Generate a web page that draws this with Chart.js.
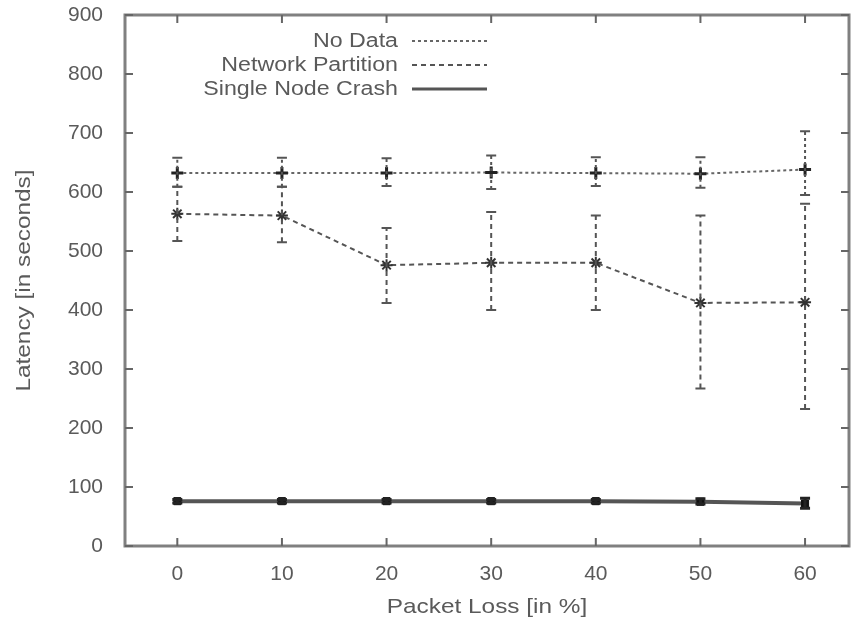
<!DOCTYPE html>
<html>
<head>
<meta charset="utf-8">
<script src="https://cdn.jsdelivr.net/npm/chart.js@4/dist/chart.umd.min.js"></script>
<style>
  html, body { margin: 0; padding: 0; background: #fff; }
  canvas { display: block; }
</style>
</head>
<body>
<canvas id="latency" width="858" height="622"></canvas>
<script>
// packet loss levels (x)
const packetLoss = [0, 10, 20, 30, 40, 50, 60];
const xTicks = [0, 10, 20, 30, 40, 50, 60];
const yTicks = [0, 100, 200, 300, 400, 500, 600, 700, 800, 900];

const seriesNames = ['No Data', 'Network Partition', 'Single Node Crash'];

// latency in seconds, with error bar ends
const noData     = [632, 632, 632, 633, 632, 631, 638];
const noDataLow  = [609, 609, 610, 605, 610, 607, 595];
const noDataHigh = [658, 658, 657, 662, 659, 659, 703];

const partition     = [563, 560, 476, 480, 480, 412, 413];
const partitionLow  = [517, 515, 412, 400, 400, 267, 232];
const partitionHigh = [609, 609, 539, 566, 560, 560, 580];

const crash     = [76, 76, 76, 76, 76, 75, 72];
const crashLow  = [73, 73, 73, 73, 73, 71, 64];
const crashHigh = [79, 79, 79, 79, 79, 80, 81];

const textColor = '#5a5a5a';
const frameColor = '#808080';
const FONT = '"Liberation Sans", Arial, Helvetica, sans-serif';
const STRETCH = 1.16;   // glyphs in the picture are a bit wide

function pts(vals, lo, hi) {
    return packetLoss.map((x, i) => ({x: x, y: vals[i], lo: lo[i], hi: hi[i]}));
}

function wideText(ctx, text, x, y, align, rot) {
    ctx.save();
    ctx.translate(x, y);
    if (rot) ctx.rotate(rot);
    ctx.scale(STRETCH, 1);
    ctx.textAlign = align;
    ctx.textBaseline = 'middle';
    ctx.fillText(text, 0, 0);
    ctx.restore();
}

// box around plot with inward ticks on all four sides
const framePlugin = {
    id: 'frame',
    beforeDatasetsDraw(chart) {
        const {ctx, chartArea: a, scales} = chart;
        ctx.save();
        ctx.strokeStyle = frameColor;
        ctx.lineWidth = 3;
        ctx.strokeRect(a.left, a.top, a.right - a.left, a.bottom - a.top);
        ctx.lineWidth = 2;
        ctx.strokeStyle = '#666';
        const tl = 8;
        ctx.beginPath();
        xTicks.forEach(v => {
            const px = scales.x.getPixelForValue(v);
            ctx.moveTo(px, a.bottom); ctx.lineTo(px, a.bottom - tl);
            ctx.moveTo(px, a.top); ctx.lineTo(px, a.top + tl);
        });
        yTicks.forEach(v => {
            const py = scales.y.getPixelForValue(v);
            ctx.moveTo(a.left, py); ctx.lineTo(a.left + tl, py);
            ctx.moveTo(a.right, py); ctx.lineTo(a.right - tl, py);
        });
        ctx.stroke();
        ctx.restore();
    }
};

// vertical error bars with small caps, same dash as the series line
const errorBarPlugin = {
    id: 'errorBars',
    afterDatasetsDraw(chart) {
        const {ctx, scales} = chart;
        chart.data.datasets.forEach(ds => {
            ctx.save();
            ctx.strokeStyle = ds.barColor;
            ctx.lineWidth = ds.barWidth;
            ctx.setLineDash(ds.borderDash || []);
            ds.data.forEach(p => {
                const px = scales.x.getPixelForValue(p.x);
                const yl = scales.y.getPixelForValue(p.lo);
                const yh = scales.y.getPixelForValue(p.hi);
                ctx.beginPath();
                ctx.moveTo(px, yl); ctx.lineTo(px, yh);
                ctx.stroke();
                ctx.setLineDash([]);
                ctx.beginPath();
                ctx.moveTo(px - 5, yl); ctx.lineTo(px + 5, yl);
                ctx.moveTo(px - 5, yh); ctx.lineTo(px + 5, yh);
                ctx.stroke();
                ctx.setLineDash(ds.borderDash || []);
            });
            ctx.restore();
        });
    }
};

// axis titles and gnuplot style key (text right, sample line left)
const labelsPlugin = {
    id: 'labels',
    afterDraw(chart) {
        const {ctx, chartArea: a} = chart;
        ctx.save();
        ctx.fillStyle = textColor;
        ctx.font = '21px ' + FONT;
        wideText(ctx, 'Packet Loss [in %]', (a.left + a.right) / 2, 607, 'center');
        wideText(ctx, 'Latency [in seconds]', 24, (a.top + a.bottom) / 2, 'center', -Math.PI / 2);

        ctx.font = '20px ' + FONT;
        const rows = [41, 65, 89];
        chart.data.datasets.forEach((ds, i) => {
            wideText(ctx, ds.label, 398, rows[i], 'right');
            ctx.save();
            ctx.strokeStyle = ds.borderColor;
            ctx.lineWidth = Math.min(ds.borderWidth, 3);
            ctx.setLineDash(ds.borderDash || []);
            ctx.beginPath();
            ctx.moveTo(412, rows[i]);
            ctx.lineTo(487, rows[i]);
            ctx.stroke();
            ctx.restore();
        });
        ctx.restore();
    }
};

new Chart(document.getElementById('latency'), {
    type: 'line',
    data: {
        datasets: [{
            label: seriesNames[0],
            data: pts(noData, noDataLow, noDataHigh),
            borderColor: '#666',
            borderWidth: 2,
            borderDash: [3, 3],
            barColor: '#555',
            barWidth: 2,
            pointStyle: 'cross',
            pointRadius: 6,
            pointBorderWidth: 3,
            pointBorderColor: '#222',
            pointBackgroundColor: '#222',
        }, {
            label: seriesNames[1],
            data: pts(partition, partitionLow, partitionHigh),
            borderColor: '#555',
            borderWidth: 2,
            borderDash: [5, 4],
            barColor: '#555',
            barWidth: 2,
            pointStyle: 'star',
            pointRadius: 6,
            pointBorderWidth: 2,
            pointBorderColor: '#333',
            pointBackgroundColor: '#333',
        }, {
            label: seriesNames[2],
            data: pts(crash, crashLow, crashHigh),
            borderColor: '#555',
            borderWidth: 4,
            barColor: '#222',
            barWidth: 3,
            pointStyle: 'rect',
            pointRadius: 5,
            pointBorderWidth: 1,
            pointBorderColor: '#111',
            pointBackgroundColor: '#111',
        }]
    },
    options: {
        responsive: false,
        animation: false,
        devicePixelRatio: 1,
        layout: {padding: {top: 15, right: 6, left: 0, bottom: 0}},
        plugins: {
            legend: {display: false},
            tooltip: {enabled: false},
        },
        scales: {
            x: {
                type: 'linear',
                min: -5,
                max: 64.2,
                afterBuildTicks: scale => {
                    scale.ticks = xTicks.map(v => ({value: v}));
                },
                afterFit: scale => {
                    scale.height = 76;
                    scale.paddingLeft = 0;
                    scale.paddingRight = 0;
                },
                grid: {display: false},
                border: {display: false},
                ticks: {
                    color: textColor,
                    font: {family: FONT, size: 21},
                    padding: 8,
                    maxRotation: 0,
                },
            },
            y: {
                min: 0,
                max: 900,
                afterBuildTicks: scale => {
                    scale.ticks = yTicks.map(v => ({value: v}));
                },
                afterFit: scale => {
                    scale.width = 125;
                    scale.paddingTop = 0;
                    scale.paddingBottom = 0;
                },
                grid: {display: false},
                border: {display: false},
                ticks: {
                    color: textColor,
                    font: {family: FONT, size: 21},
                    padding: 14,
                },
            }
        }
    },
    plugins: [framePlugin, errorBarPlugin, labelsPlugin]
});
</script>
</body>
</html>
